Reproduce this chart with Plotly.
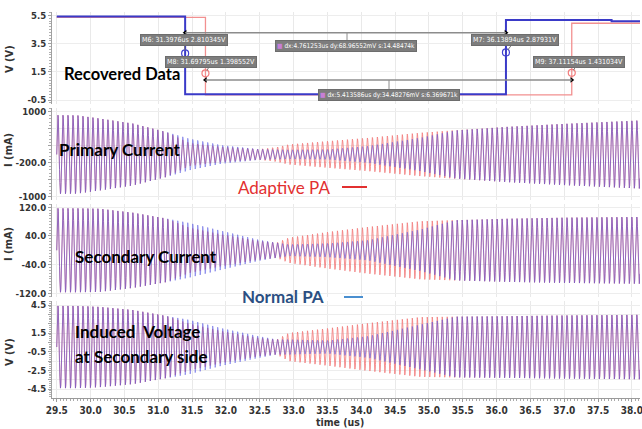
import numpy as np
import plotly.graph_objects as go

# ---------------- data ----------------
# Recovered data (square waves), time in us, volts
data_normal_t = [29.5, 31.3976, 31.3976, 36.13894, 36.13894, 37.70, 37.70, 38.12]
data_normal_v = [5.42, 5.42, -0.09, -0.09, 5.18, 5.18, 5.09, 5.09]
data_adapt_t = [29.5, 31.69795, 31.69795, 37.11154, 37.11154, 38.12]
data_adapt_v = [5.37, 5.37, -0.13, -0.13, 4.95, 4.95]

# cursor markers
marker_names = ["M6", "M8", "M7", "M9"]
marker_t = [31.3976, 31.69795, 36.13894, 37.11154]
marker_v = [2.810345, 1.398552, 2.87931, 1.431034]
marker_labels = ["M6: 31.3976us 2.810345V", "M8: 31.69795us 1.398552V",
                 "M7: 36.13894us 2.87931V", "M9: 37.11154us 1.431034V"]
delta_labels = ["dx:4.761253us dy:68.96552mV s:14.48474k",
                "dx:5.413586us dy:34.48276mV s:6.369671k"]

# carrier frequency (MHz = cycles/us) and envelope amplitudes
carrier_mhz = 13.56
env_t = [29.5, 29.8, 30.13, 30.62, 31.11, 31.46, 31.94, 32.49, 32.75, 32.93,
         33.51, 34.1, 34.88, 35.4, 36.16, 37.0, 38.12]
prim_adapt = [925, 920, 847, 729, 533, 270, 176, 125, 170, 235, 313, 390, 510, 570, 650, 720, 800]
prim_normal = [925, 920, 847, 729, 533, 370, 216, 125, 115, 110, 118, 196, 392, 565, 650, 720, 800]
sec_adapt = [117, 117, 116, 105, 89, 63, 44, 26, 21, 35, 51, 65, 81, 84, 88, 91, 93]
sec_normal = [117, 117, 116, 105, 89, 76, 54, 29, 21, 16, 19, 28, 58, 84, 88, 91, 93]
ind_adapt = [4.4, 4.4, 4.3, 3.97, 3.34, 2.5, 1.7, 0.97, 0.8, 1.5, 2.0, 2.55, 3.2, 3.25, 3.3, 3.38, 3.45]
ind_normal = [4.4, 4.4, 4.3, 3.97, 3.34, 2.9, 2.0, 1.15, 0.8, 0.8, 0.7, 1.15, 2.4, 3.25, 3.3, 3.38, 3.45]

x_ticks = [29.5, 30.0, 30.5, 31.0, 31.5, 32.0, 32.5, 33.0, 33.5, 34.0, 34.5, 35.0,
           35.5, 36.0, 36.5, 37.0, 37.5, 38.0]
y1_ticks = [5.5, 3.5, 1.5, -0.5]
y2_ticks = [1000, 600, 200, -200, -600, -1000]
y2_text = ["1000", "", "", "-200.0", "", "-1000"]
y3_ticks = [120, 40, -40, -120]
y3_text = ["120.0", "40.0", "-40.0", "-120.0"]
y4_ticks = [4.5, 3.5, 2.5, 1.5, 0.5, -0.5, -1.5, -2.5, -3.5, -4.5]
y4_text = ["4.5", "", "", "1.5", "", "-0.5", "", "-2.5", "", "-4.5"]

# ---------------- geometry helpers ----------------
W, H = 642, 429
L, R = 52, 2


def xp(px):
    return (px - L) / (W - L - R)


def yp(py):
    return 1 - py / H


t = np.arange(29.5, 38.12, 1.0 / (carrier_mhz * 16))
carrier = np.sin(2 * np.pi * carrier_mhz * (t - 29.5))


def wave(env):
    return np.interp(t, env_t, env) * carrier


RED = "#f27c7c"
BLUE = "#4c4ce0"
fig = go.Figure()

# top panel
fig.add_trace(go.Scatter(x=data_adapt_t, y=data_adapt_v, mode="lines",
                         line=dict(color="#f29090", width=1.3), xaxis="x", yaxis="y"))
fig.add_trace(go.Scatter(x=data_normal_t, y=data_normal_v, mode="lines",
                         line=dict(color="#3a3ac8", width=2), xaxis="x", yaxis="y"))
fig.add_trace(go.Scatter(x=marker_t, y=marker_v, mode="markers",
                         marker=dict(symbol="circle-open", size=7,
                                     color=["#4040d0", RED, "#4040d0", RED], line=dict(width=1.2)),
                         xaxis="x", yaxis="y"))

for i, (a, n) in enumerate([(prim_adapt, prim_normal), (sec_adapt, sec_normal), (ind_adapt, ind_normal)]):
    ax = "x" + str(i + 2)
    ay = "y" + str(i + 2)
    fig.add_trace(go.Scatter(x=t, y=wave(a), mode="lines", line=dict(color=RED, width=0.85),
                             xaxis=ax, yaxis=ay))
    fig.add_trace(go.Scatter(x=t, y=wave(n), mode="lines", line=dict(color=BLUE, width=0.85),
                             opacity=0.68, xaxis=ax, yaxis=ay))

xr = [29.43, 38.12]
doms = [[yp(104), yp(12)], [yp(200), yp(108)], [yp(297), yp(204)], [yp(398), yp(301)]]
yranges = [[-0.777, 5.748], [-1071, 1094], [-130.3, 129.2], [-5.46, 4.93]]
ytv = [y1_ticks, y2_ticks, y3_ticks, y4_ticks]
ytt = [[str(v) for v in y1_ticks], y2_text, y3_text, y4_text]
minor_d = [0.2, 80, 8, 0.2]

yfont = dict(family="Liberation Sans Narrow, DejaVu Sans Condensed, Arial Narrow",
             size=9.5, color="#333333", weight="bold")
xfont = dict(yfont, size=10)
layout = dict(width=W, height=H, margin=dict(l=L, r=R, t=0, b=0, autoexpand=False),
              paper_bgcolor="white", plot_bgcolor="white", showlegend=False)
for i in range(4):
    sx = "" if i == 0 else str(i + 1)
    xa = dict(domain=[0, 1], range=xr, anchor="y" + sx, tickvals=x_ticks, automargin=False,
              showgrid=True, gridcolor="#e9e9e9", gridwidth=1, zeroline=False,
              showticklabels=(i == 3), showline=(i == 3), linecolor="#9a9a9a",
              ticks="outside" if i == 3 else "", ticklen=3, tickcolor="#9a9a9a",
              tickfont=xfont, tickformat=".1f", ticklabeloverflow="allow")
    if i == 3:
        xa["minor"] = dict(ticks="outside", ticklen=2, dtick=0.05, tick0=29.5,
                           tickcolor="#aaaaaa", showgrid=False)
    if i != 0:
        xa["matches"] = "x"
    layout["xaxis" + sx] = xa
    layout["yaxis" + sx] = dict(domain=doms[i], range=yranges[i], anchor="x" + sx,
                                automargin=False, ticklabeloverflow="allow",
                                tickvals=ytv[i], ticktext=ytt[i], showgrid=True,
                                gridcolor="#ededed", zeroline=False, showline=True,
                                linecolor="#a0a0a0", ticks="outside", ticklen=3,
                                tickcolor="#a0a0a0", tickfont=yfont,
                                minor=dict(ticks="outside", ticklen=2, dtick=minor_d[i],
                                           tick0=ytv[i][-1], tickcolor="#b0b0b0",
                                           showgrid=False))
fig.update_layout(**layout)

ann = []
# y-axis titles
for txt, py in [("V (V)", 59), ("I (mA)", 150), ("I (mA)", 244), ("V (V)", 352)]:
    ann.append(dict(text="<b>" + txt + "</b>", x=xp(9), y=yp(py), xref="paper", yref="paper",
                    xanchor="center", yanchor="middle", textangle=-90, showarrow=False,
                    font=dict(family="Liberation Sans Narrow, DejaVu Sans Condensed", size=11,
                              color="#333333")))
ann.append(dict(text="<b>time (us)</b>", x=xp(340), y=yp(422), xref="paper", yref="paper",
                xanchor="center", yanchor="middle", showarrow=False,
                font=dict(family="Liberation Sans Narrow, DejaVu Sans Condensed",
                          size=10.5, color="#333333")))

big = "Lato, Calibri, sans-serif"
labels = [("<b>Recovered Data</b>", 62, 74, "black", 16.5),
          ("<b>Primary Current</b>", 57, 150, "black", 17),
          ("<b>Secondary Current</b>", 73, 256, "black", 17),
          ("<b>Induced  Voltage</b>", 73, 331, "black", 17),
          ("<b>at Secondary side</b>", 73, 356, "black", 17),
          ("Adaptive PA", 236, 187, "#e23030", 17),
          ("<b>Normal PA</b>", 240, 296, "#2b4f82", 17)]
for txt, px, py, col, fs in labels:
    ann.append(dict(text=txt, x=xp(px), y=yp(py), xref="paper", yref="paper",
                    xanchor="left", yanchor="middle", showarrow=False,
                    font=dict(family=big, size=fs, color=col)))

# marker label boxes
box_font = dict(family="DejaVu Sans Condensed, Liberation Sans Narrow", size=7, color="white")
offsets = [(-1, -13), (6, -11), (9, -12), (7, -11)]
for i in range(4):
    ann.append(dict(text=marker_labels[i], x=marker_t[i], y=marker_v[i], xref="x", yref="y",
                    ax=offsets[i][0], ay=offsets[i][1], showarrow=True, arrowhead=0,
                    arrowcolor="#7a7a7a", arrowwidth=1, bgcolor="#7d7d7d",
                    bordercolor="#6d6d6d", borderpad=1, font=box_font, standoff=3))

icon = "<span style='color:#c77fd6'>■</span> "
for txt, px, py in [(delta_labels[0], 346, 46), (delta_labels[1], 389, 95.5)]:
    ann.append(dict(text=icon + txt, x=xp(px), y=yp(py), xref="paper", yref="paper",
                    xanchor="center", yanchor="middle",
                    showarrow=False, bgcolor="#7d7d7d", bordercolor="#6d6d6d", borderpad=1,
                    font=dict(box_font, size=6.5)))
fig.update_layout(annotations=ann)

# delta cursor lines and legend dashes
shapes = [
    dict(type="line", xref="x", yref="y", x0=marker_t[0], x1=marker_t[2], y0=4.28, y1=4.28,
         line=dict(color="#8c8c8c", width=1.5)),
    dict(type="line", xref="x", yref="y", x0=marker_t[1], x1=marker_t[3], y0=0.93, y1=0.93,
         line=dict(color="#8c8c8c", width=1.5)),
    dict(type="line", xref="paper", yref="paper", x0=xp(347), x1=xp(347), y0=yp(33), y1=yp(41),
         line=dict(color="#8c8c8c", width=1)),
    dict(type="line", xref="paper", yref="paper", x0=xp(389), x1=xp(389), y0=yp(80), y1=yp(91),
         line=dict(color="#8c8c8c", width=1)),
    dict(type="line", xref="paper", yref="paper", x0=xp(342), x1=xp(367), y0=yp(187), y1=yp(187),
         line=dict(color="#e23030", width=2)),
    dict(type="line", xref="paper", yref="paper", x0=xp(344), x1=xp(363), y0=yp(297), y1=yp(297),
         line=dict(color="#4a8fd0", width=2)),
]
fig.update_layout(shapes=shapes)
fig.add_trace(go.Scatter(x=[marker_t[0], marker_t[2], marker_t[1], marker_t[3]],
                         y=[4.28, 4.28, 0.93, 0.93], mode="markers",
                         marker=dict(symbol=["triangle-left", "triangle-right",
                                             "triangle-left", "triangle-right"],
                                     size=5, color="black"), xaxis="x", yaxis="y"))

fig.write_html("out.html", config={"displayModeBar": False},
               post_script="document.body.style.margin='0';document.body.style.overflow='hidden';")
